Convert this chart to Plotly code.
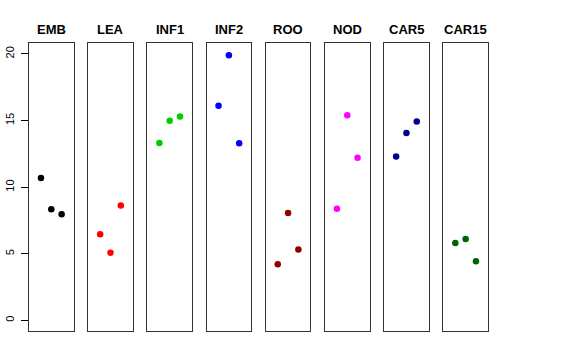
import plotly.graph_objects as go

categories = ["EMB", "LEA", "INF1", "INF2", "ROO", "NOD", "CAR5", "CAR15"]
replicates = [1, 2, 3]
values = {
    "EMB": [10.69, 8.35, 7.97],
    "LEA": [6.46, 5.07, 8.62],
    "INF1": [13.32, 14.98, 15.30],
    "INF2": [16.12, 19.90, 13.29],
    "ROO": [4.22, 8.05, 5.32],
    "NOD": [8.37, 15.40, 12.20],
    "CAR5": [12.30, 14.06, 14.93],
    "CAR15": [5.81, 6.11, 4.43],
}
colors = ["#000000", "#FF0000", "#00CD00", "#0000FF", "#8B0000", "#FF00FF", "#00008B", "#006400"]
y_ticks = [0, 5, 10, 15, 20]

W, H = 576, 360
left0, step, pw = 29.0, 59.19, 44.6
top_px, bot_px = 43.3, 331.0
title_px = 29.5

fig = go.Figure()
for i, cat in enumerate(categories):
    n = i + 1
    xa = "x" if n == 1 else f"x{n}"
    ya = "y" if n == 1 else f"y{n}"
    fig.add_trace(go.Scatter(
        x=replicates, y=values[cat], mode="markers",
        marker=dict(color=colors[i], size=6.5, line=dict(width=0)),
        xaxis=xa, yaxis=ya, showlegend=False, hoverinfo="skip"))
    x0 = (left0 + i * step) / W
    x1 = (left0 + i * step + pw) / W
    xkey = "xaxis" if n == 1 else f"xaxis{n}"
    ykey = "yaxis" if n == 1 else f"yaxis{n}"
    fig.layout[xkey] = dict(
        domain=[x0, x1], range=[-0.16, 4.16], showticklabels=False, ticks="",
        showgrid=False, zeroline=False, showline=True, mirror=True,
        linecolor="#333333", linewidth=1, anchor=ya, fixedrange=True)
    yd = dict(
        domain=[(H - bot_px) / H, (H - top_px) / H], range=[-0.8, 20.8],
        showgrid=False, zeroline=False, showline=True, mirror=True,
        linecolor="#333333", linewidth=1, anchor=xa, fixedrange=True)
    if n == 1:
        yd.update(tickmode="array", tickvals=y_ticks, ticktext=[str(t) for t in y_ticks],
                  ticks="outside", ticklen=7, tickcolor="#000000", tickwidth=1,
                  tickangle=-90, ticklabelstandoff=3,
                  tickfont=dict(family="Liberation Sans, Arial", size=11, color="#000000"))
    else:
        yd.update(showticklabels=False, ticks="")
    fig.layout[ykey] = yd
    fig.add_annotation(
        x=(x0 + x1) / 2, y=(H - title_px) / H, xref="paper", yref="paper",
        text=f"<b>{cat}</b>", showarrow=False, xanchor="center", yanchor="middle",
        font=dict(family="Liberation Sans, Arial", size=13, color="#000000"))

fig.update_layout(
    width=W, height=H, margin=dict(l=0, r=0, t=0, b=0, autoexpand=False),
    paper_bgcolor="white", plot_bgcolor="white")

fig.write_html(
    "out.html",
    config={"displayModeBar": False, "staticPlot": True},
    post_script="document.body.style.margin='0';document.body.style.overflow='hidden';")
